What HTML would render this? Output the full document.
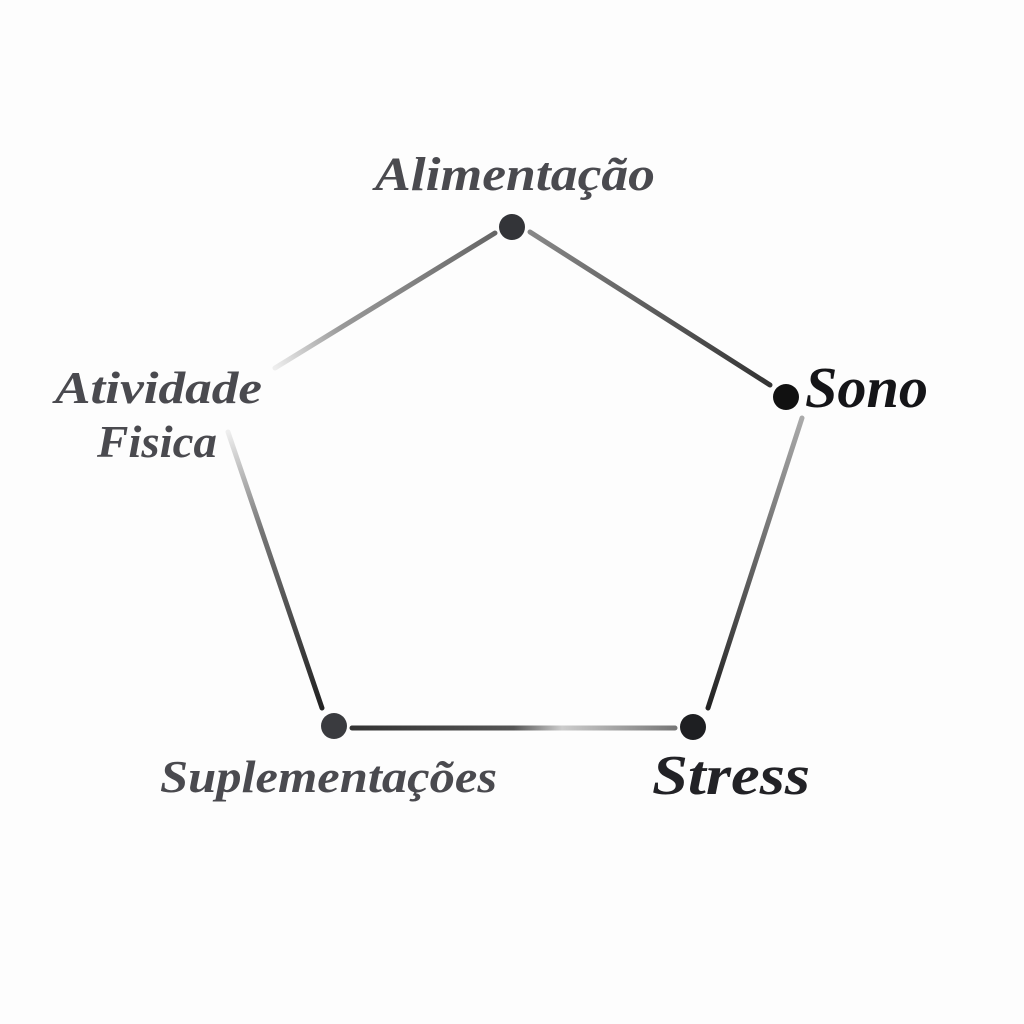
<!DOCTYPE html>
<html><head><meta charset="utf-8"><style>
html,body{margin:0;padding:0;background:#fdfdfd;}
svg{display:block}
text{font-family:"Liberation Serif",serif;font-style:italic;}
</style></head><body>
<svg width="1024" height="1024" viewBox="0 0 1024 1024" xmlns="http://www.w3.org/2000/svg">
<defs>
<linearGradient id="g1" gradientUnits="userSpaceOnUse" x1="275" y1="368" x2="495" y2="233"><stop offset="0" stop-color="#eee"/><stop offset="0.3" stop-color="#999"/><stop offset="1" stop-color="#666"/></linearGradient>
<linearGradient id="g2" gradientUnits="userSpaceOnUse" x1="530" y1="232" x2="770" y2="385"><stop offset="0" stop-color="#888"/><stop offset="1" stop-color="#333"/></linearGradient>
<linearGradient id="g3" gradientUnits="userSpaceOnUse" x1="802" y1="418" x2="708" y2="708"><stop offset="0" stop-color="#aaa"/><stop offset="1" stop-color="#222"/></linearGradient>
<linearGradient id="g4" gradientUnits="userSpaceOnUse" x1="352" y1="728" x2="675" y2="728"><stop offset="0" stop-color="#333"/><stop offset="0.5" stop-color="#555"/><stop offset="0.65" stop-color="#ccc"/><stop offset="1" stop-color="#777"/></linearGradient>
<linearGradient id="g5" gradientUnits="userSpaceOnUse" x1="228" y1="432" x2="322" y2="708"><stop offset="0" stop-color="#eee"/><stop offset="0.35" stop-color="#777"/><stop offset="1" stop-color="#222"/></linearGradient>
</defs>
<g stroke-width="5" stroke-linecap="round" fill="none">
<line x1="275" y1="368" x2="495" y2="233" stroke="url(#g1)"/>
<line x1="530" y1="232" x2="770" y2="385" stroke="url(#g2)"/>
<line x1="802" y1="418" x2="708" y2="708" stroke="url(#g3)"/>
<line x1="352" y1="728" x2="675" y2="728" stroke="url(#g4)"/>
<line x1="228" y1="432" x2="322" y2="708" stroke="url(#g5)"/>
</g>
<circle cx="512" cy="227" r="13" fill="#333438"/>
<circle cx="786" cy="397" r="13" fill="#111"/>
<circle cx="693" cy="727" r="13" fill="#1e1f22"/>
<circle cx="334" cy="726" r="13" fill="#3a3b3f"/>
<g font-weight="bold">
<text x="375" y="190" font-size="48" fill="#4a4a4f" textLength="280" lengthAdjust="spacingAndGlyphs">Alimentação</text>
<text x="805" y="407" font-size="58" fill="#151518" textLength="123" lengthAdjust="spacingAndGlyphs">Sono</text>
<text x="652" y="794" font-size="56" fill="#222226" textLength="158" lengthAdjust="spacingAndGlyphs">Stress</text>
<text x="160" y="792" font-size="45" fill="#4a4a4f" textLength="337" lengthAdjust="spacingAndGlyphs">Suplementações</text>
<text x="55" y="403" font-size="45" fill="#4a4a4f" textLength="207" lengthAdjust="spacingAndGlyphs">Atividade</text>
<text x="97" y="457" font-size="45" fill="#4a4a4f" textLength="120" lengthAdjust="spacingAndGlyphs">Fisica</text>
</g>
</svg>
</body></html>
